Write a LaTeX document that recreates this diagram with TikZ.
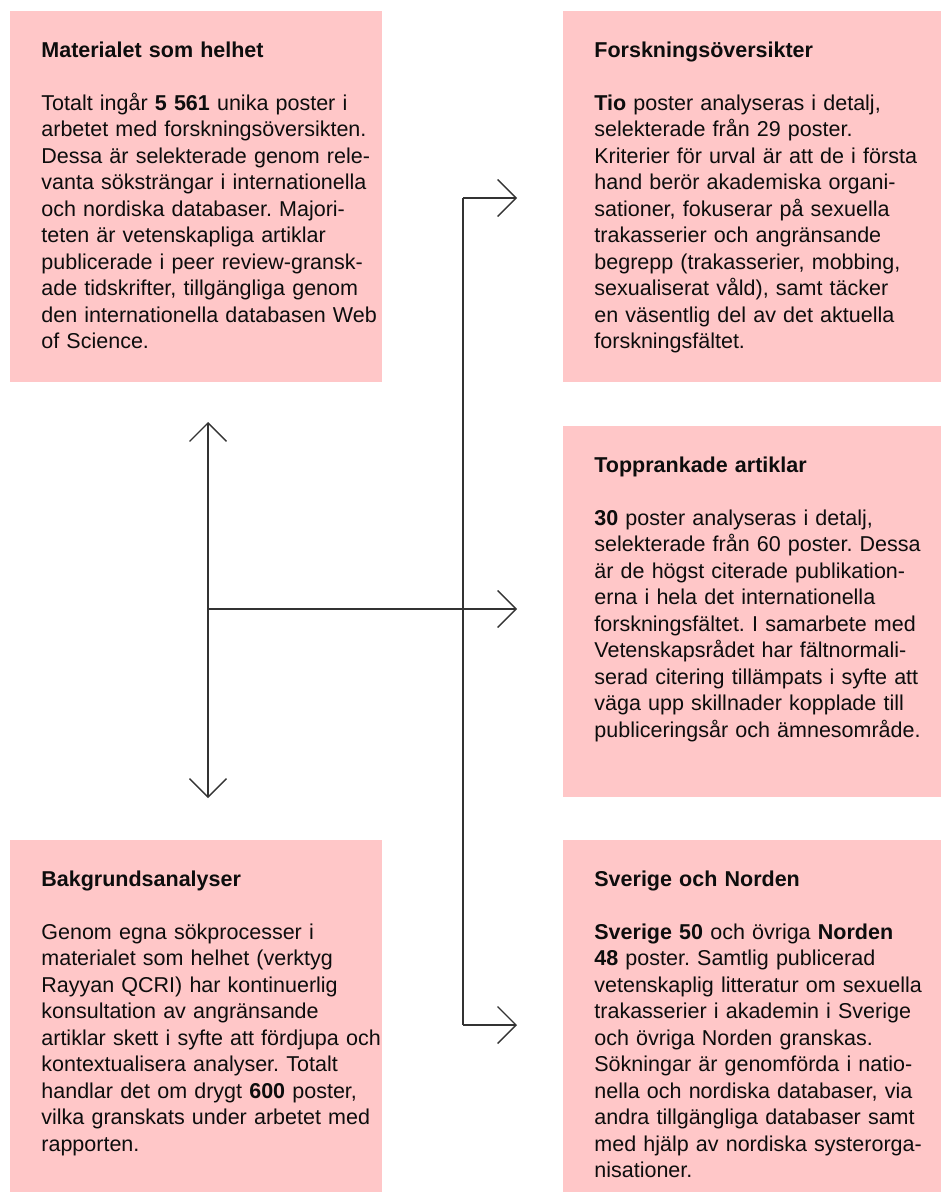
\documentclass[tikz,border=0pt]{standalone}
\usepackage{fontspec}
\setmainfont{Liberation Sans}
\usetikzlibrary{positioning,arrows.meta}
\definecolor{cardpink}{RGB}{255,199,200}
\setlength{\parindent}{0pt}
\frenchspacing

\begin{document}
\begin{tikzpicture}[x=0.5pt,y=-0.5pt,>={Straight Barb[length=9.25pt,width=18.5pt]}]
 	\tikzstyle{card}=[rectangle, fill=cardpink, inner sep=0pt, outer sep=0pt, minimum width=186pt, minimum height=185.5pt]
 	\tikzstyle{wide}=[minimum width=189pt]
 	\tikzstyle{short}=[minimum height=176pt]
 	\tikzstyle{cardtext}=[anchor=north west, inner sep=0pt, xshift=15.5pt, yshift=-15.25pt, text width=176pt, align=left, font=\fontsize{10.75pt}{13.25pt}\selectfont, text=black!95]
 	\tikzstyle{connect}=[->, line width=0.7pt, draw=black!80]
 	\tikzstyle{wire}=[line width=0.7pt, draw=black!80]
 	\useasboundingbox (0,0) rectangle (951,1203);
 	\node[card, anchor=north west] (mat) at (10,11) [label={[cardtext]north west:{\textbf{Materialet som helhet}\\[13.25pt]
 		Totalt ingår \textbf{5~561} unika poster i\\
 		arbetet med forskningsöversikten.\\
 		Dessa är selekterade genom rele-\\
 		vanta söksträngar i internationella\\
 		och nordiska databaser. Majori-\\
 		teten är vetenskapliga artiklar\\
 		publicerade i peer review-gransk-\\
 		ade tidskrifter, tillgängliga genom\\
 		den internationella databasen Web\\
 		of Science.}}] { };
 	\node[card, wide] (fors) [right=90.5pt of mat, label={[cardtext]north west:{\textbf{Forskningsöversikter}\\[13.25pt]
 		\textbf{Tio} poster analyseras i detalj,\\
 		selekterade från 29 poster.\\
 		Kriterier för urval är att de i första\\
 		hand berör akademiska organi-\\
 		sationer, fokuserar på sexuella\\
 		trakasserier och angränsande\\
 		begrepp (trakasserier, mobbing,\\
 		sexualiserat våld), samt täcker\\
 		en väsentlig del av det aktuella\\
 		forskningsfältet.}}] { };
 	\node[card, wide] (topp) [below=22pt of fors, label={[cardtext]north west:{\textbf{Topprankade artiklar}\\[13.25pt]
 		\textbf{30} poster analyseras i detalj,\\
 		selekterade från 60 poster. Dessa\\
 		är de högst citerade publikation-\\
 		erna i hela det internationella\\
 		forskningsfältet. I samarbete med\\
 		Vetenskapsrådet har fältnormali-\\
 		serad citering tillämpats i syfte att\\
 		väga upp skillnader kopplade till\\
 		publiceringsår och ämnesområde.}}] { };
 	\node[card, wide, short] (sve) [below=21.5pt of topp, label={[cardtext]north west:{\textbf{Sverige och Norden}\\[13.25pt]
 		\textbf{Sverige 50} och övriga \textbf{Norden}\\
 		\textbf{48} poster. Samtlig publicerad\\
 		vetenskaplig litteratur om sexuella\\
 		trakasserier i akademin i Sverige\\
 		och övriga Norden granskas.\\
 		Sökningar är genomförda i natio-\\
 		nella och nordiska databaser, via\\
 		andra tillgängliga databaser samt\\
 		med hjälp av nordiska systerorga-\\
 		nisationer.}}] { };
 	\node[card, short] (bak) [left=90.5pt of sve, label={[cardtext]north west:{\textbf{Bakgrundsanalyser}\\[13.25pt]
 		Genom egna sökprocesser i\\
 		materialet som helhet (verktyg\\
 		Rayyan QCRI) har kontinuerlig\\
 		konsultation av angränsande\\
 		artiklar skett i syfte att fördjupa och\\
 		kontextualisera analyser. Totalt\\
 		handlar det om drygt \textbf{600} poster,\\
 		vilka granskats under arbetet med\\
 		rapporten.}}] { };
 	% junctions of the connectors
 	\coordinate (hub) at (208,609);
 	\coordinate (jt) at (463,198);
 	\coordinate (jb) at (463,1025);
 	\draw[connect, <->, shorten <=20pt, shorten >=21pt] (hub |- mat.south) -- (hub |- bak.north);
 	\draw[wire] (jt) -- (jb);
 	\draw[connect, shorten >=23pt] (jt) -- (jt -| fors.west);
 	\draw[connect, shorten >=23pt] (hub) -- (hub -| topp.west);
 	\draw[connect, shorten >=23pt] (jb) -- (jb -| sve.west);
\end{tikzpicture}
\end{document}
